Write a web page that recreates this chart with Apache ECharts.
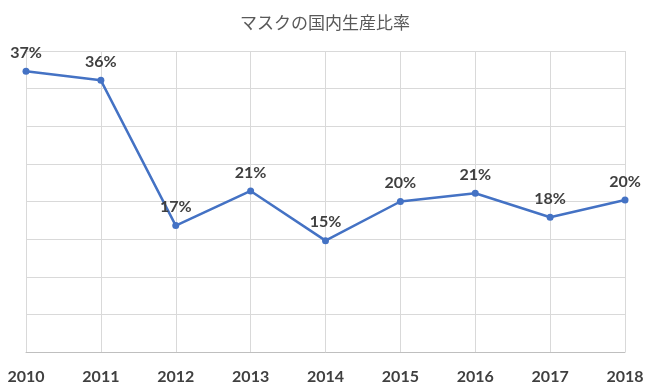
<!DOCTYPE html>
<html>
<head>
<meta charset="utf-8">
<script src="https://cdn.jsdelivr.net/npm/echarts@6/dist/echarts.min.js"></script>
<style>
html,body{margin:0;padding:0;background:#fff;}
#chart{width:650px;height:390px;}
</style>
</head>
<body>
<div id="chart"></div>
<script>
const titleText = 'マスクの国内生産比率';
const years = ['2010','2011','2012','2013','2014','2015','2016','2017','2018'];
const shares = [37.3, 36.1, 16.8, 21.4, 14.8, 20.0, 21.1, 17.9, 20.2];
const yMin = 0, yMax = 40, yStep = 5;

const chart = echarts.init(document.getElementById('chart'), null, {renderer:'canvas'});
chart.setOption({
  animation: false,
  backgroundColor: '#ffffff',
  title: {
    text: titleText,
    left: 'center',
    top: 9,
    textStyle: {fontFamily: 'Noto Sans CJK JP', fontSize: 17, fontWeight: 'normal', color: '#595959'}
  },
  grid: {left: 26, right: 25, top: 51, bottom: 38, containLabel: false},
  xAxis: {
    type: 'category',
    data: years,
    boundaryGap: false,
    axisLine: {show: true, lineStyle: {color: '#bfbfbf', width: 1}},
    axisTick: {show: false},
    axisLabel: {
      margin: 17, interval: 0,
      fontFamily: 'Lato', fontWeight: 'bold', fontSize: 16, color: '#404040'
    },
    splitLine: {show: true, lineStyle: {color: '#d9d9d9', width: 1}}
  },
  yAxis: {
    type: 'value',
    min: yMin, max: yMax, interval: yStep,
    axisLine: {show: false},
    axisTick: {show: false},
    axisLabel: {show: false},
    splitLine: {show: true, lineStyle: {color: '#d9d9d9', width: 1}}
  },
  series: [{
    type: 'line',
    data: shares,
    symbol: 'circle',
    symbolSize: 7,
    lineStyle: {color: '#4472C4', width: 2.5},
    itemStyle: {color: '#4472C4'},
    label: {
      show: true,
      position: 'top',
      distance: 7,
      formatter: p => Math.round(p.value) + '%',
      fontFamily: 'Lato', fontWeight: 'bold', fontSize: 16, color: '#404040'
    }
  }]
});
</script>
</body>
</html>
